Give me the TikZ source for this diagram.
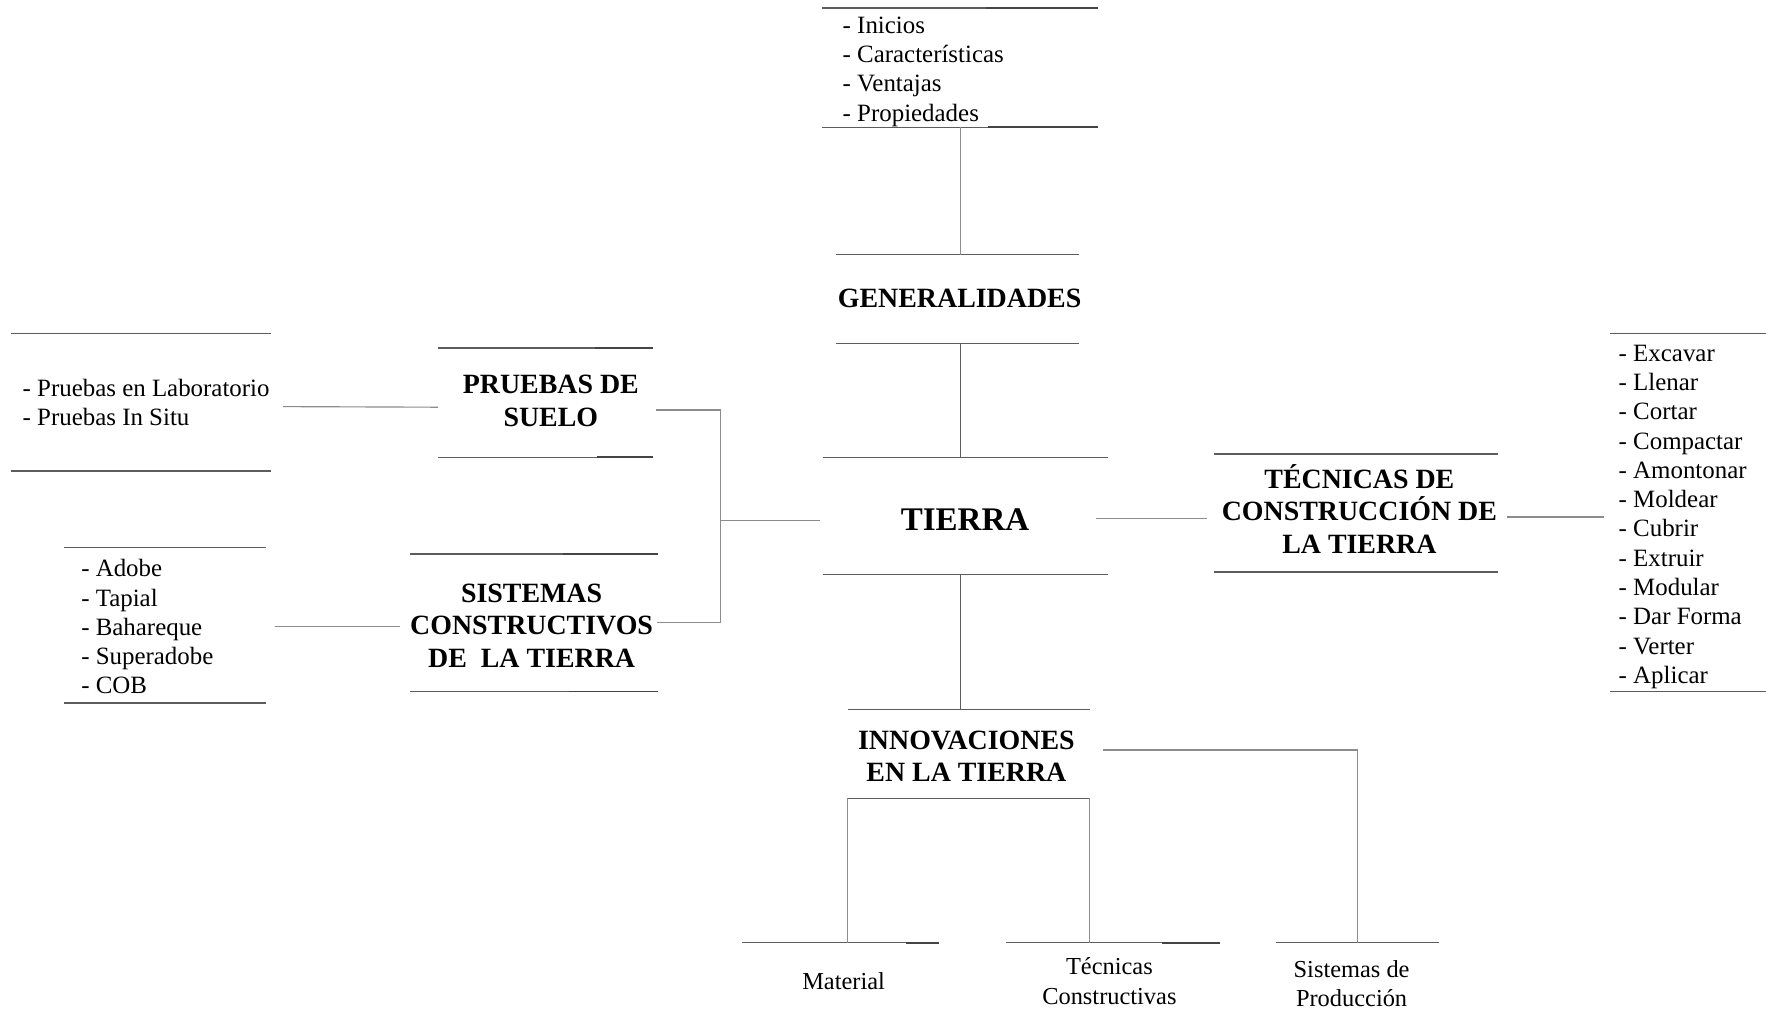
\documentclass[tikz,border=0pt]{standalone}
\usepackage{fontspec}
\setmainfont{Liberation Serif}
\definecolor{rulegray}{HTML}{5C5C5C}
\definecolor{conngray}{HTML}{8C8C8C}
\definecolor{darkseg}{HTML}{444444}
\begin{document}
\begin{tikzpicture}[x=1pt,y=-1pt,
  frame/.style={inner sep=0pt, outer sep=0pt},
  rule/.style={draw=rulegray, line width=1.4pt},
  dseg/.style={draw=darkseg, line width=1.9pt},
  conn/.style={draw=conngray, line width=1.15pt},
  connd/.style={draw=rulegray, line width=1.4pt},
  listtxt/.style={font=\fontsize{24.9}{29.3}\selectfont, align=left, anchor=west, inner sep=0pt},
  plain/.style={font=\fontsize{24.4}{29.3}\selectfont, align=center, inner sep=0pt},
  title/.style={font=\fontsize{27.9}{32.4}\selectfont\bfseries, align=center, inner sep=0pt},
  big/.style={font=\fontsize{33}{38}\selectfont\bfseries, inner sep=0pt}]

\useasboundingbox (0,0) rectangle (1766,1017);
\fill[white] (0,0) rectangle (1766,1017);

% ---- frames (top and bottom rules of each block) ----
\node[frame, minimum width=276pt, minimum height=119.4pt] (glist)    at (960,67.6) {};
\node[frame, minimum width=243pt, minimum height=89pt]    (gen)      at (957.4,299) {};
\node[frame, minimum width=285pt, minimum height=117.1pt] (tierra)   at (965.5,515.9) {};
\node[frame, minimum width=242pt, minimum height=88.9pt]  (innov)    at (968.5,754) {};
\node[frame, minimum width=197pt, minimum height=60pt]    (mat)      at (840.6,972.7) {};
\node[frame, minimum width=214pt, minimum height=60pt]    (tecC)     at (1113,972.7) {};
\node[frame, minimum width=163pt, minimum height=60pt]    (sisP)     at (1357.5,972.7) {};
\node[frame, minimum width=260pt, minimum height=137.4pt] (plist)    at (141,402.1) {};
\node[frame, minimum width=215pt, minimum height=109.3pt] (pruebas)  at (545.5,402.7) {};
\node[frame, minimum width=202pt, minimum height=155.4pt] (slist)    at (165,625.1) {};
\node[frame, minimum width=248pt, minimum height=137.4pt] (sistemas) at (534,622.8) {};
\node[frame, minimum width=284pt, minimum height=118.3pt] (tecnicas) at (1356,513) {};
\node[frame, minimum width=156pt, minimum height=358.1pt] (tlist)    at (1688,512.5) {};

\foreach \b in {glist,gen,tierra,innov,plist,pruebas,slist,sistemas,tecnicas,tlist}{
  \draw[rule] (\b.north west) -- (\b.north east);
  \draw[rule] (\b.south west) -- (\b.south east);
}
\foreach \b in {mat,tecC,sisP}{
  \draw[rule] (\b.north west) -- (\b.north east);
}

% darker ends of some rules
\draw[dseg] ([xshift=-112.5]glist.north east) -- (glist.north east);
\draw[dseg] ([xshift=-110]glist.south east) -- (glist.south east);
\draw[dseg] ([xshift=-58]pruebas.north east) -- (pruebas.north east);
\draw[dseg] ([xshift=-56]pruebas.south east) -- (pruebas.south east);
\draw[dseg] ([xshift=-95]sistemas.north east) -- (sistemas.north east);
\draw[dseg] ([xshift=-89]sistemas.south east) -- (sistemas.south east);
\draw[dseg] ([xshift=-33.5]mat.north east) -- (mat.north east);
\draw[dseg] ([xshift=-57.7]tecC.north east) -- (tecC.north east);

% ---- texts ----
\node[listtxt] (glistT) at (842.5,71.7) {- Inicios\\- Características\\- Ventajas\\- Propiedades};
\node[title] (genT) at (959.6,298.5) {GENERALIDADES};
\node[big] (tierraT) at (965,519.2) {TIERRA};
\node[title] (innovT) at (966.4,756.3) {INNOVACIONES\\EN LA TIERRA};
\node[plain] (matT) at (843.6,981) {Material};
\node[plain] (tecCT) at (1109.4,981) {Técnicas\\Constructivas};
\node[plain] (sisPT) at (1351.6,983.3) {Sistemas de\\Producción};
\node[listtxt] (plistT) at (22.5,402.5) {- Pruebas en Laboratorio\\- Pruebas In Situ};
\node[title] (pruebasT) at (550.8,401) {PRUEBAS DE\\SUELO};
\node[listtxt] (slistT) at (81.1,626.8) {- Adobe\\- Tapial\\- Bahareque\\- Superadobe\\- COB};
\node[title] (sistemasT) at (531.6,625.5) {SISTEMAS\\CONSTRUCTIVOS\\DE\ \ LA TIERRA};
\node[title] (tecnicasT) at (1359.4,508.7) {TÉCNICAS DE\\CONSTRUCCIÓN DE\\LA TIERRA};
\node[listtxt] (tlistT) at (1618.5,516.8) {- Excavar\\- Llenar\\- Cortar\\- Compactar\\- Amontonar\\- Moldear\\- Cubrir\\- Extruir\\- Modular\\- Dar Forma\\- Verter\\- Aplicar};

% ---- connectors ----
\coordinate (spine) at (960.7,0);
\draw[conn]  (glist.south -| spine) -- (gen.north -| spine);
\draw[connd] (gen.south -| spine) -- (tierra.north -| spine);
\draw[connd] (tierra.south -| spine) -- (innov.north -| spine);

\draw[conn] (innov.south west) -- (innov.south west |- mat.north);
\draw[conn] (innov.south east) -- (innov.south east |- tecC.north);
\draw[conn] ([xshift=13,yshift=4]innov.east) -| (sisP.north);

\draw[conn] ([xshift=12,yshift=-4.5]plist.east) -- ([yshift=-4.5]pruebas.west);
\draw[conn] ([xshift=9,yshift=-1]slist.east) -- ([xshift=-10,yshift=-1]slist.east -| sistemas.west);
\draw[conn] ([xshift=-12,yshift=-2.2]tierra.east) -- ([xshift=-7,yshift=-2.2]tierra.east -| tecnicas.west);
\draw[conn] ([xshift=9,yshift=-4]tecnicas.east) -- ([xshift=-6,yshift=-4]tecnicas.east -| tlist.west);

\coordinate (jn) at (720.8,520.4);
\draw[conn] ([xshift=3,yshift=-7.3]pruebas.east) -| (jn) |- ([xshift=-1.2]sistemas.east);
\draw[conn] (jn) -- ([xshift=-3]jn -| tierra.west);
\end{tikzpicture}
\end{document}
